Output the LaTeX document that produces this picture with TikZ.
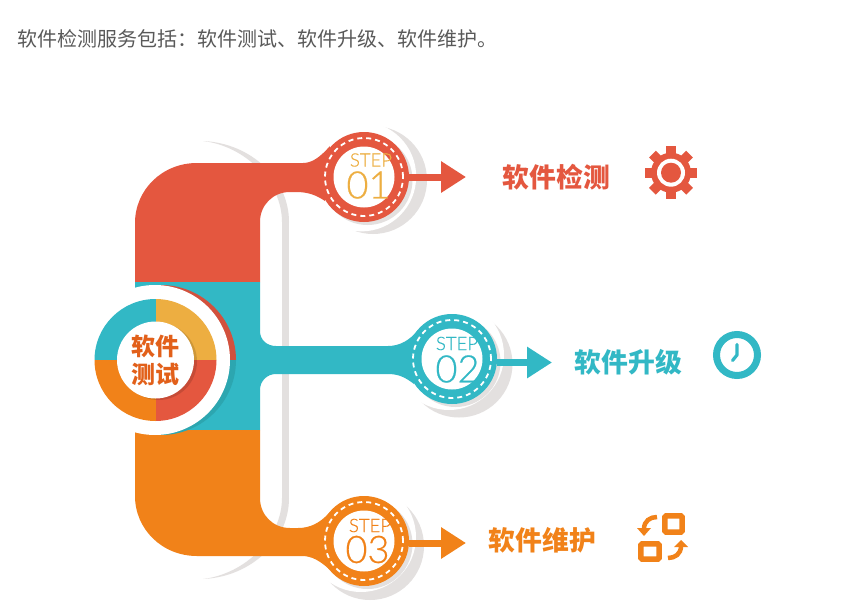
\documentclass[tikz,border=0pt]{standalone}
\usepackage{fontspec}
\usetikzlibrary{arrows.meta}
\setmainfont{Noto Sans CJK SC}
\newfontfamily\lightf[FakeBold=0.5]{Lato Light}
\definecolor{cred}{HTML}{E4573F}
\definecolor{cteal}{HTML}{32B8C5}
\definecolor{corange}{HTML}{F18219}
\definecolor{cyellow}{HTML}{EDAE41}
\definecolor{cgray}{HTML}{E3E0DF}
\definecolor{clabel}{HTML}{E2601A}
\definecolor{credshade}{HTML}{D2513D}
\definecolor{ctealshade}{HTML}{2CA6B0}
\tikzset{
  stepdisc/.style={circle,minimum size=90pt,inner sep=0pt,fill=#1},
  hubdisc/.style={circle,minimum size=#1,inner sep=0pt,fill=white},
  ringline/.style={draw=white,line width=1.8pt,dash pattern=on 5pt off 4pt},
  stepword/.style={inner sep=0pt,font=\lightf\fontsize{18.5}{18}\selectfont,text=#1},
  stepnum/.style={inner sep=0pt,font=\lightf\fontsize{38}{37}\selectfont,text=#1},
  heading/.style={inner sep=0pt,font=\fontsize{26.8}{26.8}\selectfont\bfseries,text=#1},
  stepline/.style={draw=#1,line width=7pt,-{Triangle[length=25pt,width=30pt]}}
}
\begin{document}
\begin{tikzpicture}[x=1pt,y=-1pt]
\useasboundingbox (0,0) rectangle (841,616);
\fill[white] (0,0) rectangle (841,616);

\node[anchor=west,inner sep=0pt,text=black!65,font=\fontsize{20}{20}\selectfont] (intro) at (17.5,39) {软件检测服务包括：软件测试、软件升级、软件维护。};

% gray background band
\fill[cgray] (282,222) -- (289,222) -- (289,498) -- (282,498) -- cycle;
\fill[cgray] (203,141) .. controls (250,143) and (289,178) .. (289,222) -- (282,222) .. controls (282,182) and (245,146) .. (203,141) -- cycle;
\fill[cgray] (203,579) .. controls (250,577) and (289,542) .. (289,498) -- (282,498) .. controls (282,538) and (245,574) .. (203,579) -- cycle;

% step shadows
\fill[cgray] (373,180) circle[radius=54pt];
\fill[white] (361.3,176.5) circle[radius=54.9pt];
\fill[cgray] (367.5,180) circle[radius=45pt];
\fill[cgray] (459,364) circle[radius=53.5pt];
\fill[white] (449,355) circle[radius=55pt];
\fill[cgray] (455.5,362) circle[radius=45pt];
\fill[cgray] (370,546) circle[radius=54pt];
\fill[white] (361,537) circle[radius=55pt];
\fill[cgray] (367.5,544) circle[radius=45pt];

% coloured trunk
\fill[cred] (135,282) -- (135,223) .. controls (135,190) and (162,163) .. (197,163) -- (303,163)
  .. controls (313,163) and (321,156) .. (330,146) -- (325,201)
  .. controls (316,195) and (308,192) .. (296,192) -- (290,192)
  .. controls (273,192) and (260,205) .. (260,222) -- (260,282) -- cycle;
\fill[cteal] (135,282) -- (260,282) -- (260,331) .. controls (260,340) and (267,346) .. (276,346)
  -- (388,346) .. controls (400,346) and (410,340) .. (418,330) -- (414,384)
  .. controls (405,377) and (398,374) .. (388,374) -- (276,374)
  .. controls (267,374) and (260,381) .. (260,390) -- (260,430) -- (135,430) -- cycle;
\fill[corange] (135,430) -- (135,496) .. controls (135,529) and (162,556) .. (197,556) -- (302,556)
  .. controls (312,556) and (320,561) .. (329,569) -- (329,513)
  .. controls (320,523) and (310,528) .. (298,528) -- (290,528)
  .. controls (273,528) and (260,515) .. (260,498) -- (260,430) -- cycle;

% step discs
\node[stepdisc=cred] (c1) at (364,177) {};
\node[stepdisc=cteal] (c2) at (452,359) {};
\node[stepdisc=corange] (c3) at (364,541) {};

% arrows
\coordinate (t1) at (466,177);
\coordinate (t2) at (552,362.5);
\coordinate (t3) at (466,543);
\draw[stepline=cred] (c1.east |- t1) -- (t1);
\draw[stepline=cteal] (c2.east |- t2) -- (t2);
\draw[stepline=corange] (c3.east |- t3) -- (t3);

\foreach \c in {c1,c2,c3}{
  \draw[ringline] (\c) circle[radius=39pt];
  \fill[white] (\c) circle[radius=30.5pt];
}
\node[stepword=cyellow] (s1) at (371,160) {STEP};
\node[stepnum=cyellow] (n1) at (368.5,185) {01};
\node[stepword=cteal] (s2) at (457,343.5) {STEP};
\node[stepnum=cteal] (n2) at (457.5,369) {02};
\node[stepword=corange] (s3) at (370,525.5) {STEP};
\node[stepnum=corange] (n3) at (367.5,549.5) {03};

% hub
\begin{scope}
  \clip (161,360) circle[radius=75pt];
  \fill[credshade] (80,280) rectangle (240,360);
  \fill[ctealshade] (80,360) rectangle (240,440);
\end{scope}
\node[hubdisc=150pt] (hub) at (155,360) {};
\begin{scope}
  \clip (155.5,360) circle[radius=61pt];
  \fill[cteal] (90,295) rectangle (155.5,360);
  \fill[cyellow] (155.5,295) rectangle (220,360);
  \fill[cred] (155.5,360) rectangle (220,425);
  \fill[corange] (90,360) rectangle (155.5,425);
  \fill[black,opacity=.13] (158.5,361.5) circle[radius=38.5pt];
\end{scope}
\node[hubdisc=77pt] (hubin) at (155.5,360) {};
\node[heading=clabel,font=\fontsize{24}{24}\selectfont\bfseries] (h1) at (155,346) {软件};
\node[heading=clabel,font=\fontsize{24}{24}\selectfont\bfseries] (h2) at (155,374.5) {测试};

% labels
\node[heading=cred] (l1) at (556.5,177) {软件检测};
\node[heading=cteal] (l2) at (628.5,362) {软件升级};
\node[heading=corange] (l3) at (542.5,540) {软件维护};

% gear icon
\fill[cred] (671,172.7) circle[radius=20pt];
\foreach \a in {0,45,...,315}{
  \fill[cred,rotate around={\a:(671,172.7)}] (666.2,146.4) rectangle (675.8,160);
}
\fill[white] (671,172.7) circle[radius=14pt];
\fill[cred] (671,172.7) circle[radius=10pt];

% clock icon
\draw[cteal,line width=7pt] (737,355) circle[radius=20.5pt];
\draw[cteal,line width=3.2pt,line cap=round,line join=round] (737,344.5) -- (737,355) -- (732.5,360.5);

% refresh icon
\draw[corange,line width=5.5pt,rounded corners=1.5pt] (664.8,515.8) rectangle (682.2,532.2);
\draw[corange,line width=5.5pt,rounded corners=1.5pt] (640.8,543.8) rectangle (659.2,559.2);
\draw[corange,line width=4.5pt] (657,517) .. controls (650,517) and (644,521) .. (644,529);
\fill[corange] (637,528) -- (651,528) -- (644,536) -- cycle;
\draw[corange,line width=4.5pt] (668,558) .. controls (675,558) and (681,554) .. (681,546);
\fill[corange] (674,547) -- (688,547) -- (681,540) -- cycle;
\end{tikzpicture}
\end{document}
